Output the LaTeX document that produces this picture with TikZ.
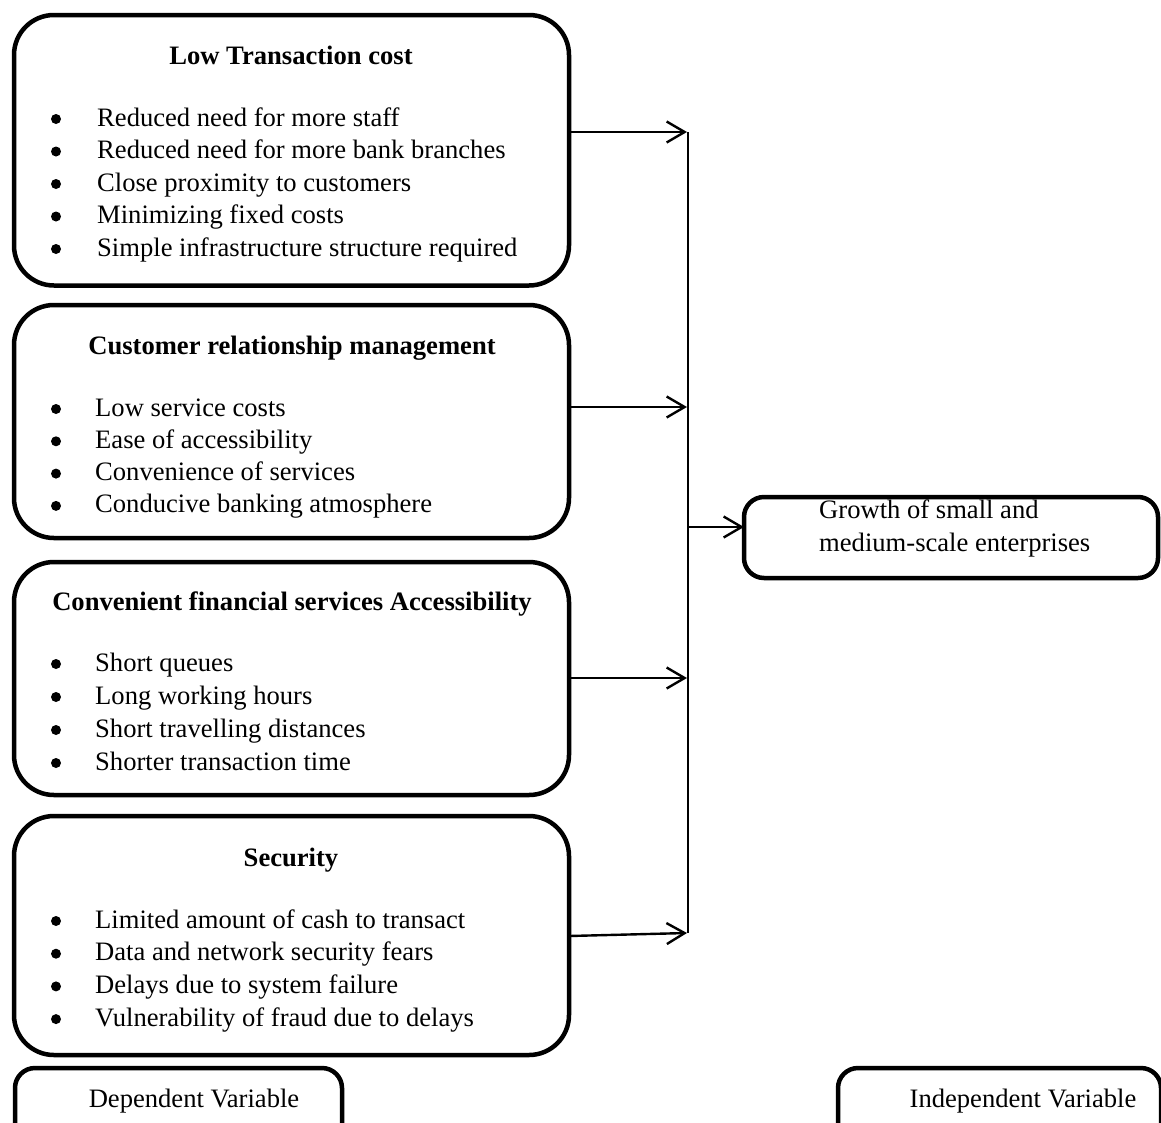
\documentclass[tikz,border=0pt]{standalone}
\usepackage{fontspec}
\setmainfont{Liberation Serif}
\usetikzlibrary{arrows.meta}
\begin{document}
\begin{tikzpicture}[x=1pt,y=-1pt,
  bigbox/.style={draw, line width=4.5pt, rounded corners=40pt, inner sep=0pt, outer sep=0pt, anchor=north west},
  smallbox/.style={draw, line width=4.5pt, rounded corners=20pt, inner sep=0pt, outer sep=0pt, anchor=north west},
  conn/.style={line width=2.4pt, -{Straight Barb[length=18pt,width=21pt]}},
  bar/.style={line width=2pt},
  txt/.style={font=\fontsize{26.6}{32}\selectfont, inner sep=0pt, anchor=base west},
  ttl/.style={font=\fontsize{26.6}{32}\selectfont\bfseries, inner sep=0pt, anchor=base},
  lbl/.style={font=\fontsize{26.6}{32}\selectfont, inner sep=0pt, anchor=base},
  bul/.style={circle, fill=black, inner sep=0pt, minimum size=10pt},
]
\clip (0,0) rectangle (1161,1122);

% boxes
\node[bigbox, minimum width=555pt, minimum height=270.5pt] (b1) at (14,15) {};
\node[bigbox, minimum width=555pt, minimum height=233pt] (b2) at (14,305) {};
\node[bigbox, minimum width=555pt, minimum height=233pt] (b3) at (14,562) {};
\node[bigbox, minimum width=555pt, minimum height=239pt] (b4) at (14,816) {};
\node[smallbox, minimum width=414pt, minimum height=81pt] (g) at (744,497) {};
\node[smallbox, minimum width=327pt, minimum height=100pt] (dep) at (15,1068) {};
\node[smallbox, minimum width=323pt, minimum height=100pt] (ind) at (838,1068) {};

% titles
\node[ttl] (t1) at (291,64) {Low Transaction cost};
\node[ttl] (t2) at (292,354) {Customer relationship management};
\node[ttl] (t3) at (292,610) {Convenient financial services Accessibility};
\node[ttl] (t4) at (291,866) {Security};

% items box 1
\foreach \t [count=\i] in {Reduced need for more staff, Reduced need for more bank branches, Close proximity to customers, Minimizing fixed costs, Simple infrastructure structure required}{
  \pgfmathsetmacro{\yy}{126+32.5*(\i-1)}
  \node[bul] (p1\i) at (56,\yy-7) {};
  \node[txt] (a1\i) at (97,\yy) {\t};
}
% items box 2
\foreach \t [count=\i] in {Low service costs, Ease of accessibility, Convenience of services, Conducive banking atmosphere}{
  \pgfmathsetmacro{\yy}{416+32.3*(\i-1)}
  \node[bul] (p2\i) at (56,\yy-7) {};
  \node[txt] (a2\i) at (95,\yy) {\t};
}
% items box 3
\foreach \t [count=\i] in {Short queues, Long working hours, Short travelling distances, Shorter transaction time}{
  \pgfmathsetmacro{\yy}{671+33*(\i-1)}
  \node[bul] (p3\i) at (56,\yy-7) {};
  \node[txt] (a3\i) at (95,\yy) {\t};
}
% items box 4
\foreach \t [count=\i] in {Limited amount of cash to transact, Data and network security fears, Delays due to system failure, Vulnerability of fraud due to delays}{
  \pgfmathsetmacro{\yy}{928+32.7*(\i-1)}
  \node[bul] (p4\i) at (56,\yy-7) {};
  \node[txt] (a4\i) at (95,\yy) {\t};
}

% right box text
\node[txt] (g1) at (819,518) {Growth of small and};
\node[txt] (g2) at (819,551) {medium-scale enterprises};

% bottom labels
\node[lbl] (dl) at (194,1107) {Dependent Variable};
\node[lbl] (il) at (1023,1107) {Independent Variable};

% connectors
\coordinate (vt) at (688,132);
\coordinate (vb) at (688,933);
\draw[bar] (vt) -- (vb);
\coordinate (j1) at (687,132);
\coordinate (j2) at (687,407);
\coordinate (j3) at (687,678);
\coordinate (j4) at (687,933);
\coordinate (h4) at (0,936);
\draw[conn] (b1.east |- j1) -- (j1);
\draw[conn] (b2.east |- j2) -- (j2);
\draw[conn] (b3.east |- j3) -- (j3);
\draw[conn] (b4.east |- h4) -- (j4);
\coordinate (jm) at (688,527);
\draw[conn] (jm) -- (g.west |- jm);
\end{tikzpicture}
\end{document}
